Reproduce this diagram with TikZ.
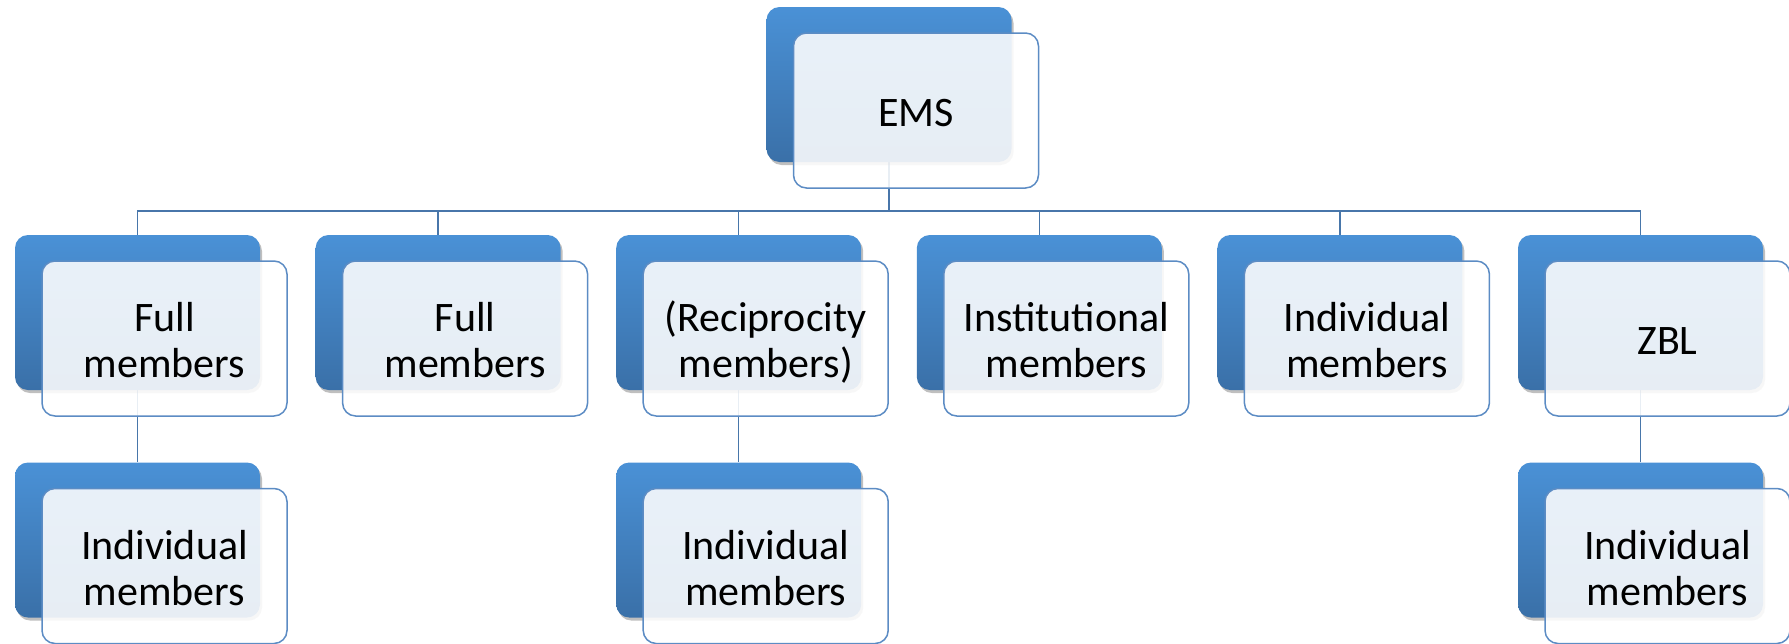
\documentclass[tikz,border=0pt]{standalone}
\usepackage{fontspec}
\setmainfont{Carlito}
\usetikzlibrary{shadows,backgrounds,calc}
\definecolor{bluetop}{RGB}{74,145,214}
\definecolor{bluebot}{RGB}{58,112,168}
\definecolor{edgeblue}{RGB}{92,140,196}
\definecolor{linkblue}{RGB}{72,118,170}
\tikzset{
 backbox/.style={rounded corners=13pt, minimum width=245pt, minimum height=155pt, inner sep=0pt,
   top color=bluetop, bottom color=bluebot, draw=none,
   drop shadow={shadow xshift=2pt, shadow yshift=-3pt, opacity=0.25, fill=black}},
 frontbox/.style={rounded corners=13pt, minimum width=245pt, minimum height=155pt, inner sep=0pt,
   draw=edgeblue, line width=1.5pt, fill=white, fill opacity=0.88, text opacity=1,
   align=center, font=\fontsize{42}{46}\selectfont},
 conn/.style={draw=linkblue, line width=1.5pt}
}
\newcommand{\orgunit}[4]{%
  \node[backbox] (#1b) at (#2,#3) {};
  \node[frontbox] (#1f) at ($(#1b.center)+(27,-26)$) {\raisebox{-7pt}[\height][\depth]{\begin{tabular}{@{}c@{}}#4\end{tabular}}};
}
\begin{document}
\begin{tikzpicture}[x=1pt,y=1pt]
\useasboundingbox (0,0) rectangle (1789,-643);
\orgunit{top}{889}{-84.5}{EMS}
\orgunit{ra}{137.5}{-312.5}{Full\\members}
\orgunit{rb}{438.1}{-312.5}{Full\\members}
\orgunit{rc}{738.7}{-312.5}{(Reciprocity\\members)}
\orgunit{rd}{1039.3}{-312.5}{Institutional\\members}
\orgunit{re}{1339.9}{-312.5}{Individual\\members}
\orgunit{rf}{1640.5}{-312.5}{ZBL}
\orgunit{ca}{137.5}{-540}{Individual\\members}
\orgunit{cc}{738.7}{-540}{Individual\\members}
\orgunit{cf}{1640.5}{-540}{Individual\\members}
\coordinate (bar) at (0,-211);
\begin{scope}[on background layer]
  \foreach \c in {ra,rb,rc,rd,re,rf}{
    \draw[conn] (topb.center) -- (topb.center |- bar) -| (\c b.north);
  }
  \draw[conn] (rab.center) -- (cab.north);
  \draw[conn] (rcb.center) -- (ccb.north);
  \draw[conn] (rfb.center) -- (cfb.north);
\end{scope}
\end{tikzpicture}
\end{document}
